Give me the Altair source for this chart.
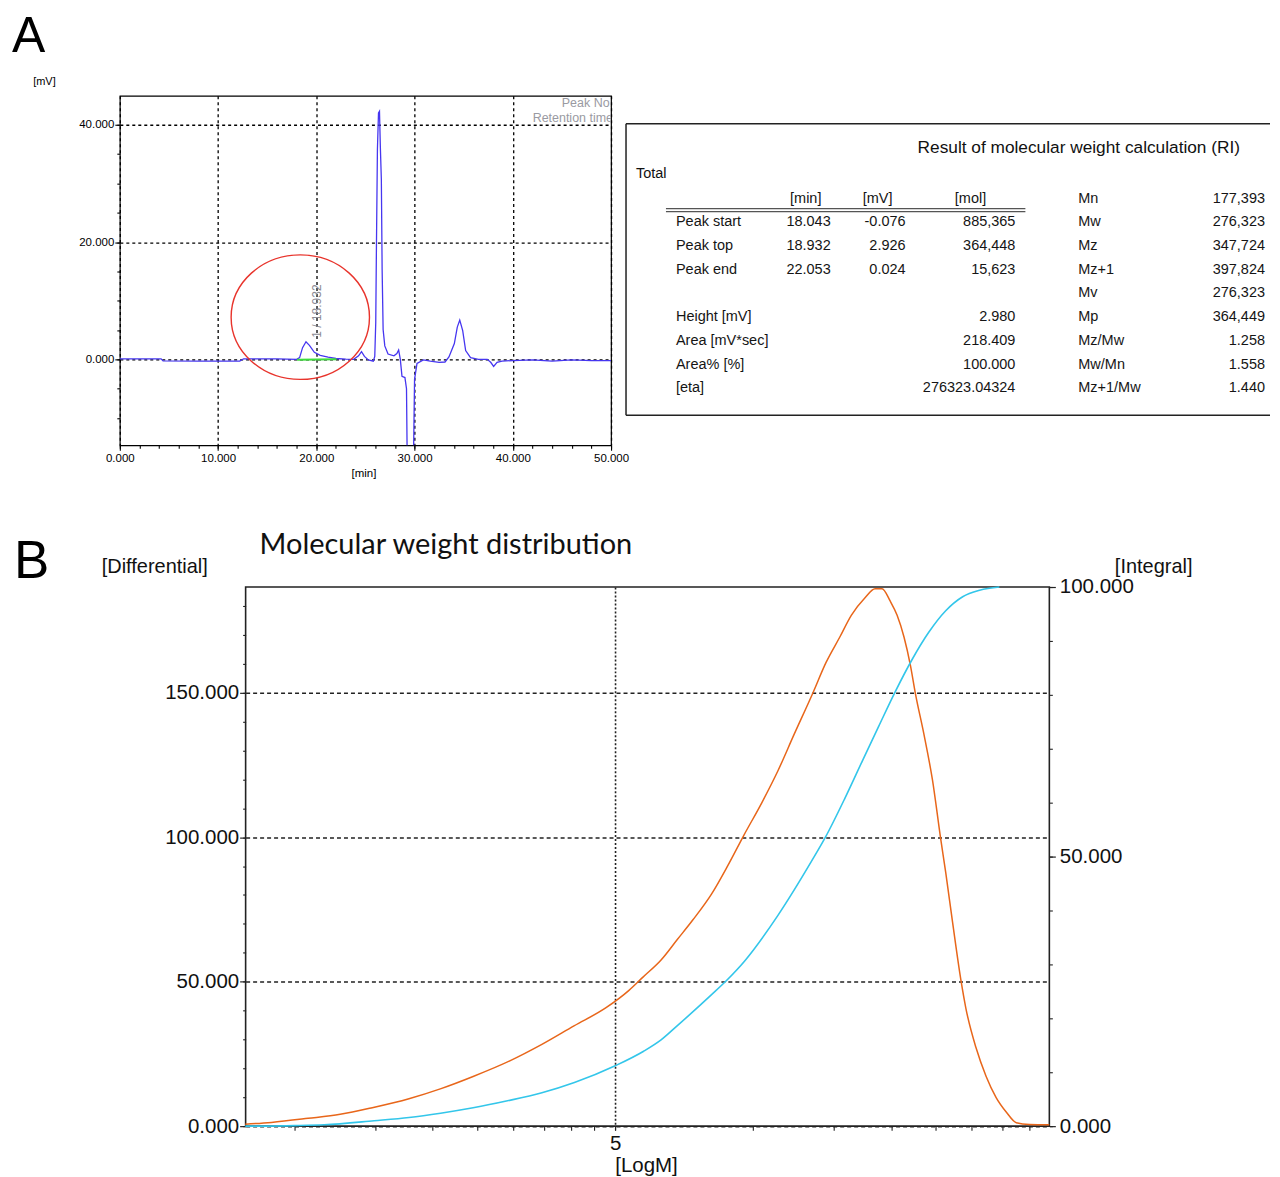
import math
import altair as alt
import pandas as pd

# ---------------- Panel A : chromatogram ----------------
CHROM_T = [0.0, 4.2, 4.4, 8.0, 12.2, 12.6, 16.0, 18.0, 18.3, 18.6, 18.95, 19.3, 19.8, 20.4,
           21.2, 22.0, 23.0, 23.8, 24.3, 24.6, 24.9, 25.3, 25.8, 25.95, 26.05, 26.12, 26.22,
           26.33, 26.43, 26.52, 26.62, 26.70, 26.80, 26.97, 27.3, 27.9, 28.2, 28.38, 28.55,
           28.72, 29.02, 29.18, 29.28, 29.85, 30.0, 30.25, 30.9, 31.6, 32.5, 33.1, 33.5, 34.05,
           34.35, 34.6, 34.9, 35.2, 35.7, 36.5, 37.4, 37.75, 38.05, 38.4, 38.9, 40.0, 42.0,
           44.0, 46.0, 48.0, 50.0]
CHROM_MV = [0.1, 0.1, -0.25, -0.3, -0.3, 0.1, 0.1, 0.0, 0.3, 2.0, 3.0, 2.4, 1.2, 0.7,
            0.4, 0.15, 0.05, 0.0, 0.6, 1.3, 0.5, -0.1, -0.3, 0.5, 6.3, 19.3, 35.8,
            42.0, 42.3, 36.1, 30.7, 15.3, 5.1, 2.3, 0.9, 0.6, 1.0, 1.6, 0.0,
            -2.9, -3.1, -5.0, -22.0, -22.0, -3.4, -0.7, -0.1, -0.3, -0.5, -0.45, 0.4, 2.7,
            5.5, 6.7, 4.9, 1.5, 0.3, 0.0, 0.0, -0.5, -1.2, -0.5, -0.3, -0.2, -0.1,
            -0.3, -0.1, -0.2, -0.2]
BASELINE_T = [18.043, 22.053]
BASELINE_MV = [-0.076, 0.024]
PEAK_LABEL = ["1 / 18.932"]
PEAK_LABEL_T = [18.932]
PEAK_LABEL_MV = [3.7]
CIRCLE_T = [18.37]
CIRCLE_MV = [7.2]
A_X_MAJOR = [0, 10, 20, 30, 40, 50]
A_X_MINOR = list(range(0, 51, 2))
A_Y_MAJOR = [0, 20, 40]
A_Y_MINOR = list(range(-10, 41, 5))

# ---------------- Result table ----------------
TABLE_TITLE = "Result of molecular weight calculation (RI)"
HEADERS = ["[min]", "[mV]", "[mol]"]
ROW_LABELS = ["Peak start", "Peak top", "Peak end", "", "Height [mV]", "Area [mV*sec]", "Area% [%]", "[eta]"]
MIN_VALS = ["18.043", "18.932", "22.053"]
MV_VALS = ["-0.076", "2.926", "0.024"]
MOL_VALS = ["885,365", "364,448", "15,623", "", "2.980", "218.409", "100.000", "276323.04324"]
STAT_NAMES = ["Mn", "Mw", "Mz", "Mz+1", "Mv", "Mp", "Mz/Mw", "Mw/Mn", "Mz+1/Mw"]
STAT_VALUES = ["177,393", "276,323", "347,724", "397,824", "276,323", "364,449", "1.258", "1.558", "1.440"]

# ---------------- Panel B : molecular weight distribution ----------------
DIFF_LOGM = [4.193, 4.25, 4.33, 4.40, 4.47, 4.55, 4.62, 4.69, 4.77, 4.84, 4.91, 4.98, 5.03,
             5.06, 5.10, 5.135, 5.17, 5.21, 5.245, 5.28, 5.32, 5.355, 5.39, 5.43, 5.46, 5.49,
             5.515, 5.545, 5.567, 5.582, 5.60, 5.615, 5.63, 5.644, 5.655, 5.673, 5.692, 5.71,
             5.721, 5.736, 5.754, 5.765, 5.787, 5.809, 5.831, 5.853, 5.875, 5.904, 5.947]
DIFF_VAL = [0.7, 1.3, 2.7, 4.1, 6.4, 9.5, 13.0, 17.2, 22.6, 28.3, 34.7, 41.0, 47.0,
            51.5, 57.5, 64.5, 71.5, 80.3, 90.0, 100.5, 112.0, 123.0, 135.5, 149.5, 160.5, 169.3,
            176.8, 182.9, 186.0, 186.0, 181.7, 176.8, 169.3, 159.5, 149.6, 136.0, 119.9, 99.5,
            87.8, 70.5, 50.7, 40.8, 27.2, 17.3, 9.9, 4.9, 1.2, 0.6, 0.5]
INT_LOGM = [4.193, 4.30, 4.365, 4.474, 4.55, 4.619, 4.69, 4.765, 4.84, 4.911, 5.0, 5.062,
            5.10, 5.135, 5.209, 5.245, 5.282, 5.355, 5.428, 5.458, 5.501, 5.54, 5.575, 5.611,
            5.648, 5.684, 5.721, 5.758, 5.795, 5.838]
INT_VAL = [0.0, 0.1, 0.25, 1.0, 1.6, 2.4, 3.4, 4.7, 6.2, 8.1, 11.2, 13.9,
           16.0, 18.6, 24.3, 27.2, 30.6, 39.1, 49.1, 53.5, 60.8, 67.9, 74.2, 80.6,
           86.6, 91.6, 95.6, 98.2, 99.4, 100.0]
B_TICK_MASSES = [20000, 30000, 40000, 50000, 60000, 70000, 80000, 90000,
                 100000, 200000, 300000, 400000, 500000, 600000, 700000, 800000]
B_X_MINOR = [math.log10(m) for m in B_TICK_MASSES]
B_X_MAJOR = [5.0]
B_YL_MAJOR = [0, 50, 100, 150]
B_YL_MINOR = list(range(0, 181, 10))
B_YR_MAJOR = [0, 50, 100]
B_YR_MINOR = list(range(0, 101, 10))

# ---------------- styles ----------------
SANS = "Liberation Sans"
BLUE = "#4636f0"
GREEN = "#3ddc3d"
RED = "#e8342c"
ORANGE = "#e8661a"
CYAN = "#33c6ea"
GRAY_TXT = "#9a9aa2"
ELLIPSE = ("M -1 0 C -1 -0.497 -0.552 -0.9 0 -0.9 C 0.552 -0.9 1 -0.497 1 0 "
           "C 1 0.497 0.552 0.9 0 0.9 C -0.552 0.9 -1 0.497 -1 0 Z")
TBL_X0 = 507   # table box left edge relative to panel A plot area
TBL_W = 645
one = pd.DataFrame({"k": [0]})


def minor_axis(values, orient, size, color="black"):
    return alt.Axis(values=values, orient=orient, labels=False, grid=False, domain=False,
                    ticks=True, tickSize=size, tickColor=color, tickWidth=1.1, title="")


# ================= Panel A =================
chrom_df = pd.DataFrame({"t": CHROM_T, "mv": CHROM_MV})
base_df = pd.DataFrame({"t": BASELINE_T, "mv": BASELINE_MV})

xA = alt.X("t:Q", scale=alt.Scale(domain=[0, 50], nice=False, zero=False),
           axis=alt.Axis(values=A_X_MAJOR, format=".3f", orient="bottom",
                         tickSize=5, tickColor="black", tickWidth=1.1,
                         grid=True, gridDash=[3, 3], gridColor="black", gridWidth=1.3, domain=False,
                         labelFont=SANS, labelFontSize=11.5, labelColor="black", labelPadding=2,
                         labelFlush=False, labelOverlap=False,
                         title="[min]", titleFont=SANS, titleFontSize=11.5, titleFontWeight="normal",
                         titleColor="black", titleX=244, titleY=28, titleBaseline="middle",
                         titleAlign="center"))
yA = alt.Y("mv:Q", scale=alt.Scale(domain=[-14.64, 44.94], nice=False, zero=False),
           axis=alt.Axis(values=A_Y_MAJOR, format=".3f", orient="left",
                         tickSize=5, tickColor="black", tickWidth=1.1,
                         grid=True, gridDash=[3, 3], gridColor="black", gridWidth=1.3, domain=False,
                         labelFont=SANS, labelFontSize=11.5, labelColor="black", labelPadding=1,
                         labelFlush=False, labelOverlap=False,
                         title="[mV]", titleFont=SANS, titleFontSize=11, titleFontWeight="normal",
                         titleColor="black", titleAngle=0, titleX=-76, titleY=-14,
                         titleAlign="center", titleBaseline="middle"))

chrom_line = alt.Chart(chrom_df).mark_line(color=BLUE, strokeWidth=1.3, clip=True).encode(x=xA, y=yA)
base_line = alt.Chart(base_df).mark_line(color=GREEN, strokeWidth=2).encode(x="t:Q", y="mv:Q")
circle = alt.Chart(pd.DataFrame({"t": CIRCLE_T, "mv": CIRCLE_MV})).mark_point(
    shape=ELLIPSE, size=19200, filled=False, stroke=RED, strokeWidth=1.4, opacity=1).encode(
    x="t:Q", y="mv:Q")
peak_lbl = alt.Chart(pd.DataFrame({"t": PEAK_LABEL_T, "mv": PEAK_LABEL_MV, "s": PEAK_LABEL})).mark_text(
    angle=270, align="left", baseline="top", dy=6, font=SANS, fontSize=12, color="#8c8c94").encode(
    x="t:Q", y="mv:Q", text="s:N")
dataA = alt.layer(chrom_line, base_line, circle, peak_lbl)
minorA = alt.Chart(chrom_df.head(1)).mark_point(opacity=0).encode(
    x=alt.X("t:Q", axis=minor_axis(A_X_MINOR, "bottom", 3)),
    y=alt.Y("mv:Q", axis=minor_axis(A_Y_MINOR, "left", 3)))
coreA = alt.layer(dataA, minorA).resolve_axis(x="independent", y="independent")

anchorA = alt.Chart(one).mark_rule(strokeOpacity=0).encode(
    x=alt.value(-112), y=alt.value(-88), y2=alt.value(400))
corner1 = alt.Chart(pd.DataFrame({"s": ["Peak No."]})).mark_text(
    align="right", baseline="middle", font=SANS, fontSize=12.5, color=GRAY_TXT, clip=True).encode(
    x=alt.value(494), y=alt.value(7), text="s:N")
corner2 = alt.Chart(pd.DataFrame({"s": ["Retention time"]})).mark_text(
    align="right", baseline="middle", font=SANS, fontSize=12.5, color=GRAY_TXT, clip=True).encode(
    x=alt.value(494), y=alt.value(22), text="s:N")
letter_a = alt.Chart(pd.DataFrame({"s": ["A"]})).mark_text(
    align="left", baseline="alphabetic", font=SANS, fontSize=50, color="black").encode(
    x=alt.value(-108), y=alt.value(-44), text="s:N")

# ================= Table (drawn to the right of panel A) =================
ROW_SCALE = alt.Scale(domain=[0, 8], range=[103, 293], nice=False, zero=False)


def text_col(texts, rows, x_px, align):
    df = pd.DataFrame({"txt": texts, "row": rows})
    df = df[df["txt"] != ""]
    return alt.Chart(df).mark_text(align=align, baseline="middle", font=SANS, fontSize=14.5,
                                   color="#151515").encode(
        x=alt.value(TBL_X0 + x_px), y=alt.Y("row:Q", scale=ROW_SCALE, axis=None), text="txt:N")


rows_main = list(range(1, 9))
cells = alt.layer(
    text_col(ROW_LABELS, rows_main, 50, "left"),
    text_col(MIN_VALS, [1, 2, 3], 205, "right"),
    text_col(MV_VALS, [1, 2, 3], 280, "right"),
    text_col(MOL_VALS, rows_main, 390, "right"),
    text_col([HEADERS[0]], [0], 180, "center"),
    text_col([HEADERS[1]], [0], 252, "center"),
    text_col([HEADERS[2]], [0], 345, "center"),
    text_col(STAT_NAMES, list(range(0, 9)), 453, "left"),
    text_col(STAT_VALUES, list(range(0, 9)), 640, "right"),
)
box_top = alt.Chart(one).mark_rule(color="#222", strokeWidth=1.5).encode(
    x=alt.value(TBL_X0), x2=alt.value(TBL_X0 + TBL_W), y=alt.value(28))
box_left = alt.Chart(one).mark_rule(color="#222", strokeWidth=1.5).encode(
    x=alt.value(TBL_X0), y=alt.value(28), y2=alt.value(320))
box_bottom = alt.Chart(one).mark_rule(color="#222", strokeWidth=1.5).encode(
    x=alt.value(TBL_X0), x2=alt.value(TBL_X0 + TBL_W), y=alt.value(320))
dbl1 = alt.Chart(one).mark_rule(color="#555", strokeWidth=1.2).encode(
    x=alt.value(TBL_X0 + 40), x2=alt.value(TBL_X0 + 400), y=alt.value(113))
dbl2 = alt.Chart(one).mark_rule(color="#555", strokeWidth=1.2).encode(
    x=alt.value(TBL_X0 + 40), x2=alt.value(TBL_X0 + 400), y=alt.value(116))
tbl_title = alt.Chart(pd.DataFrame({"s": [TABLE_TITLE]})).mark_text(
    align="right", baseline="middle", font=SANS, fontSize=17.3, color="#111").encode(
    x=alt.value(TBL_X0 + 615), y=alt.value(52), text="s:N")
tbl_total = alt.Chart(pd.DataFrame({"s": ["Total"]})).mark_text(
    align="left", baseline="middle", font=SANS, fontSize=14.5, color="#111").encode(
    x=alt.value(TBL_X0 + 10), y=alt.value(78), text="s:N")

chartA = alt.layer(coreA, cells, box_top, box_left, box_bottom, dbl1, dbl2, tbl_title, tbl_total,
                   anchorA, corner1, corner2, letter_a).resolve_scale(y="independent").properties(
    width=492, height=350, view=alt.ViewBackground(stroke="black", strokeWidth=1.2))

# ================= Panel B =================
diff_df = pd.DataFrame({"logm": DIFF_LOGM, "val": DIFF_VAL})
int_df = pd.DataFrame({"logm": INT_LOGM, "val": INT_VAL})

xB = alt.X("logm:Q", scale=alt.Scale(domain=[4.1937, 5.9471], nice=False, zero=False),
           axis=alt.Axis(values=B_X_MAJOR, format=".0f", orient="bottom",
                         tickSize=4, tickColor="#222", tickWidth=1.2,
                         grid=True, gridDash=[2, 2], gridColor="#222", gridWidth=1.6, domain=False,
                         labelFont=SANS, labelFontSize=20.5, labelColor="#111", labelPadding=3,
                         labelFlush=False, labelOverlap=False,
                         title="[LogM]", titleFont=SANS, titleFontSize=20.5, titleFontWeight="normal",
                         titleColor="#111", titleX=401, titleY=39, titleBaseline="middle",
                         titleAlign="center"))
yBL = alt.Y("val:Q", scale=alt.Scale(domain=[0, 186.6], nice=False, zero=False),
            axis=alt.Axis(values=B_YL_MAJOR, format=".3f", orient="left",
                          tickSize=6, tickColor="#222", tickWidth=1.2,
                          grid=True, gridDash=[4, 3], gridColor="#222", gridWidth=1.5, domain=False,
                          labelFont=SANS, labelFontSize=20.5, labelColor="#111", labelPadding=1,
                          labelFlush=False, labelOverlap=False,
                          title="[Differential]", titleFont=SANS, titleFontSize=20, titleFontWeight="normal",
                          titleColor="#111", titleAngle=0, titleX=-91.5, titleY=-21,
                          titleAlign="center", titleBaseline="middle"))
yBR = alt.Y("val:Q", scale=alt.Scale(domain=[0, 100], nice=False, zero=False),
            axis=alt.Axis(values=B_YR_MAJOR, format=".3f", orient="right",
                          tickSize=6, tickColor="#222", tickWidth=1.2,
                          grid=False, domain=False,
                          labelFont=SANS, labelFontSize=20.5, labelColor="#111", labelPadding=4,
                          labelFlush=False, labelOverlap=False,
                          title="[Integral]", titleFont=SANS, titleFontSize=20, titleFontWeight="normal",
                          titleColor="#111", titleAngle=0, titleX=104, titleY=-21,
                          titleAlign="center", titleBaseline="middle"))

diff_line = alt.Chart(diff_df).mark_line(color=ORANGE, strokeWidth=1.5, interpolate="monotone").encode(x=xB, y=yBL)
minorBL = alt.Chart(diff_df.head(1)).mark_point(opacity=0).encode(
    x=alt.X("logm:Q", axis=minor_axis(B_X_MINOR, "bottom", 4, "#222")),
    y=alt.Y("val:Q", axis=minor_axis(B_YL_MINOR, "left", 3, "#222")))
leftB = alt.layer(diff_line, minorBL).resolve_axis(x="independent", y="independent")

int_line = alt.Chart(int_df).mark_line(color=CYAN, strokeWidth=1.6, interpolate="monotone").encode(
    x=alt.X("logm:Q", axis=None), y=yBR)
minorBR = alt.Chart(int_df.head(1)).mark_point(opacity=0).encode(
    x=alt.X("logm:Q", axis=None),
    y=alt.Y("val:Q", axis=minor_axis(B_YR_MINOR, "right", 3, "#222")))
rightB = alt.layer(int_line, minorBR).resolve_axis(y="independent")

anchorB = alt.Chart(one).mark_rule(strokeOpacity=0).encode(
    x=alt.value(-237), y=alt.value(-70), y2=alt.value(-69))
letter_b = alt.Chart(pd.DataFrame({"s": ["B"]})).mark_text(
    align="left", baseline="alphabetic", font=SANS, fontSize=53, color="black").encode(
    x=alt.value(-232), y=alt.value(-9), text="s:N")
title_b = alt.Chart(pd.DataFrame({"s": ["Molecular weight distribution"]})).mark_text(
    align="left", baseline="middle", font="Lato", fontSize=29, color="#111").encode(
    x=alt.value(14), y=alt.value(-42), text="s:N")

chartB = alt.layer(leftB, rightB, anchorB, letter_b, title_b).resolve_scale(y="independent").properties(
    width=805, height=540, view=alt.ViewBackground(stroke="#222", strokeWidth=1.6))

# an empty 1px cell that lets panel B sit further right than panel A
spacer = alt.Chart(one).mark_rule(strokeOpacity=0).encode(
    x=alt.value(0), y=alt.value(0), y2=alt.value(1)).properties(
    width=1, height=1, view=alt.ViewBackground(stroke="transparent", strokeOpacity=0))

rowB = alt.hconcat(spacer, chartB, spacing=-113)
chart = alt.vconcat(chartA, rowB, spacing=20).properties(
    padding={"left": -1, "top": -2, "right": 0, "bottom": 0}, background="white")

chart.save("out.html", embed_options={"renderer": "svg", "actions": False})
